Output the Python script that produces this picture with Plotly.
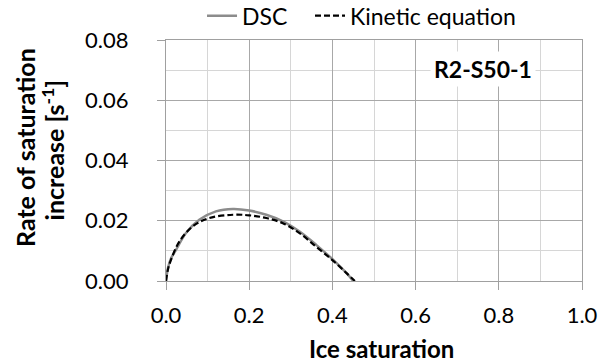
import plotly.graph_objects as go

dsc_x = [0.0, 0.005, 0.012, 0.024, 0.048, 0.080, 0.120, 0.161, 0.200, 0.241, 0.281, 0.321, 0.361, 0.402, 0.434, 0.450]
dsc_y = [0.0, 0.0045, 0.0075, 0.0103, 0.0159, 0.0203, 0.0231, 0.0239, 0.0234, 0.0220, 0.0198, 0.0164, 0.0120, 0.0070, 0.0026, 0.0]

kin_x = [0.0, 0.005, 0.012, 0.032, 0.064, 0.104, 0.161, 0.200, 0.241, 0.281, 0.321, 0.361, 0.402, 0.434, 0.454]
kin_y = [0.0, 0.0040, 0.0070, 0.0131, 0.0181, 0.0209, 0.0220, 0.0218, 0.0209, 0.0192, 0.0159, 0.0114, 0.0067, 0.0026, 0.0]

FONT = "Lato"
FS = 23
W, H = 598, 364

fig = go.Figure()
fig.add_trace(go.Scatter(x=dsc_x, y=dsc_y, mode="lines", name="DSC&nbsp;&nbsp;&nbsp;",
                         line=dict(color="#8c8c8c", width=2.5, shape="spline")))
fig.add_trace(go.Scatter(x=kin_x, y=kin_y, mode="lines", name="Kinetic equation",
                         line=dict(color="#000000", width=2.2, dash="6px,3px", shape="spline")))

fig.update_layout(
    width=W, height=H,
    margin=dict(l=166, r=16, t=40, b=83, autoexpand=False),
    paper_bgcolor="white", plot_bgcolor="white",
    font=dict(family=FONT, size=FS, color="#000000"),
    legend=dict(orientation="h", x=0.47, xanchor="center", y=1.19, yanchor="top",
                yref="paper", font=dict(size=FS), itemwidth=30,
                bgcolor="rgba(0,0,0,0)"),
    showlegend=True,
)

fig.update_xaxes(range=[0, 1.0], dtick=0.2, tickformat=".1f",
                 tickfont=dict(size=22),
                 showgrid=True, gridcolor="#a8a8a8", gridwidth=1,
                 minor=dict(dtick=0.1, showgrid=True, gridcolor="#d6d6d6", gridwidth=1),
                 showline=True, linecolor="#a0a0a0", linewidth=1, mirror=True,
                 ticks="outside", ticklen=8, tickcolor="#a0a0a0",
                 ticklabelstandoff=7, ticklabeloverflow="allow",
                 zeroline=False)
fig.update_yaxes(range=[0, 0.08], dtick=0.02, tickformat=".2f",
                 tickfont=dict(size=22),
                 showgrid=True, gridcolor="#a8a8a8", gridwidth=1,
                 minor=dict(dtick=0.01, showgrid=True, gridcolor="#d6d6d6", gridwidth=1),
                 showline=True, linecolor="#a0a0a0", linewidth=1, mirror=True,
                 ticks="outside", ticklen=8, tickcolor="#a0a0a0",
                 ticklabelstandoff=24, ticklabeloverflow="allow",
                 zeroline=False)

# axis titles
fig.add_annotation(x=0.519, y=-0.279, xref="paper", yref="paper",
                   text="<b>Ice saturation</b>", showarrow=False,
                   xanchor="center", yanchor="middle", font=dict(size=24))
fig.add_annotation(x=-0.339, y=0.556, xref="paper", yref="paper",
                   text="<b>Rate of saturation</b>",
                   showarrow=False, textangle=-90,
                   xanchor="center", yanchor="middle", font=dict(size=25))
fig.add_annotation(x=-0.2716, y=0.542, xref="paper", yref="paper",
                   text="<b>increase [s<sup>-1</sup>]</b>",
                   showarrow=False, textangle=-90,
                   xanchor="center", yanchor="middle", font=dict(size=25))

fig.add_annotation(x=0.89, y=0.0705, xref="paper", yref="y", text="<b>R2-S50-1</b>",
                   showarrow=False, xanchor="right", yanchor="middle",
                   bgcolor="white", font=dict(size=FS), borderpad=3)

# remove the default 8px page margin so the figure fills the window exactly
fig.write_html("out.html", config={"displayModeBar": False},
               post_script="document.body.style.margin='0';")
